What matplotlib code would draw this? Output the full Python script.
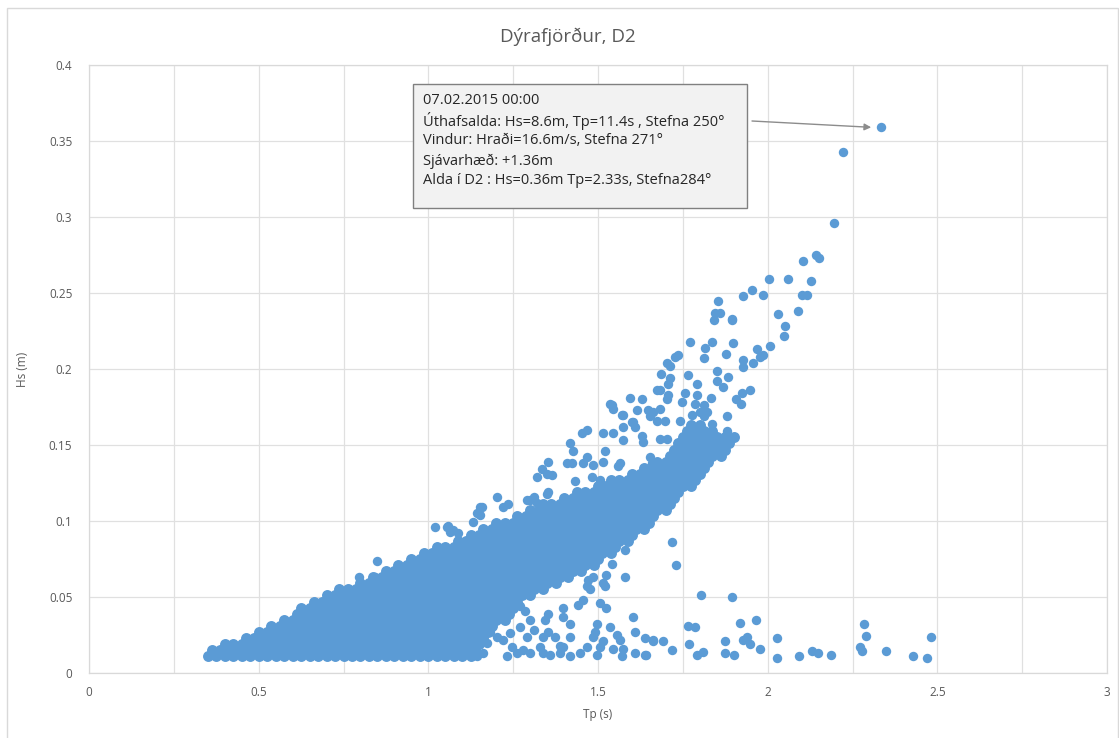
import matplotlib
matplotlib.use("Agg")
import matplotlib.pyplot as plt
from matplotlib.patches import Rectangle
import numpy as np

plt.rcParams['font.family'] = ['Open Sans', 'DejaVu Sans']

# ---------------- data ----------------
# dense core of the cloud: one Hs level per row, the Tp values of the dots in that row
core_hs = [0.011, 0.015, 0.019, 0.023, 0.027, 0.031, 0.035, 0.039, 0.043, 0.047,
           0.051, 0.055, 0.059, 0.063, 0.067, 0.071, 0.075, 0.079, 0.083, 0.087,
           0.091, 0.095, 0.099, 0.103, 0.107, 0.111, 0.115, 0.119, 0.123, 0.127,
           0.131, 0.135, 0.139, 0.143, 0.147, 0.151, 0.155, 0.159, 0.163]
core_tp = [
    [0.35,0.375,0.4,0.425,0.45,0.475,0.5,0.525,0.55,0.575,0.6,0.625,0.65,0.675,0.7,0.725,0.75,0.775,0.8,0.825,0.85,0.875,0.9,0.925,0.95,0.975,1.0,1.025,1.05,1.075,1.1,1.125],
    [0.362,0.387,0.412,0.437,0.462,0.487,0.512,0.537,0.562,0.587,0.612,0.637,0.662,0.687,0.712,0.737,0.762,0.787,0.812,0.837,0.862,0.887,0.912,0.937,0.962,0.987,1.012,1.037,1.062,1.087,1.112,1.137],
    [0.4,0.425,0.45,0.475,0.5,0.525,0.55,0.575,0.6,0.625,0.65,0.675,0.7,0.725,0.75,0.775,0.8,0.825,0.85,0.875,0.9,0.925,0.95,0.975,1.0,1.025,1.05,1.075,1.1,1.125,1.15],
    [0.462,0.487,0.512,0.537,0.562,0.587,0.612,0.637,0.662,0.687,0.712,0.737,0.762,0.787,0.812,0.837,0.862,0.887,0.912,0.937,0.962,0.987,1.012,1.037,1.062,1.087,1.112,1.137,1.162],
    [0.5,0.525,0.55,0.575,0.6,0.625,0.65,0.675,0.7,0.725,0.75,0.775,0.8,0.825,0.85,0.875,0.9,0.925,0.95,0.975,1.0,1.025,1.05,1.075,1.1,1.125,1.15,1.175],
    [0.537,0.562,0.587,0.612,0.637,0.662,0.687,0.712,0.737,0.762,0.787,0.812,0.837,0.862,0.887,0.912,0.937,0.962,0.987,1.012,1.037,1.062,1.087,1.112,1.137,1.162,1.187],
    [0.575,0.6,0.625,0.65,0.675,0.7,0.725,0.75,0.775,0.8,0.825,0.85,0.875,0.9,0.925,0.95,0.975,1.0,1.025,1.05,1.075,1.1,1.125,1.15,1.175,1.2,1.225],
    [0.612,0.637,0.662,0.687,0.712,0.737,0.762,0.787,0.812,0.837,0.862,0.887,0.912,0.937,0.962,0.987,1.012,1.037,1.062,1.087,1.112,1.137,1.162,1.187,1.212,1.237],
    [0.625,0.65,0.675,0.7,0.725,0.75,0.775,0.8,0.825,0.85,0.875,0.9,0.925,0.95,0.975,1.0,1.025,1.05,1.075,1.1,1.125,1.15,1.175,1.2,1.225,1.25],
    [0.662,0.687,0.712,0.737,0.762,0.787,0.812,0.837,0.862,0.887,0.912,0.937,0.962,0.987,1.012,1.037,1.062,1.087,1.112,1.137,1.162,1.187,1.212,1.237,1.262],
    [0.7,0.725,0.75,0.775,0.8,0.825,0.85,0.875,0.9,0.925,0.95,0.975,1.0,1.025,1.05,1.075,1.1,1.125,1.15,1.175,1.2,1.225,1.25,1.275,1.3],
    [0.737,0.762,0.787,0.812,0.837,0.862,0.887,0.912,0.937,0.962,0.987,1.012,1.037,1.062,1.087,1.112,1.137,1.162,1.187,1.212,1.237,1.262,1.287,1.312,1.337],
    [0.8,0.825,0.85,0.875,0.9,0.925,0.95,0.975,1.0,1.025,1.05,1.075,1.1,1.125,1.15,1.175,1.2,1.225,1.25,1.275,1.3,1.325,1.35,1.375],
    [0.837,0.862,0.887,0.912,0.937,0.962,0.987,1.012,1.037,1.062,1.087,1.112,1.137,1.162,1.187,1.212,1.237,1.262,1.287,1.312,1.337,1.362,1.387,1.412],
    [0.875,0.9,0.925,0.95,0.975,1.0,1.025,1.05,1.075,1.1,1.125,1.15,1.175,1.2,1.225,1.25,1.275,1.3,1.325,1.35,1.375,1.4,1.425,1.45],
    [0.912,0.937,0.962,0.987,1.012,1.037,1.062,1.087,1.112,1.137,1.162,1.187,1.212,1.237,1.262,1.287,1.312,1.337,1.362,1.387,1.412,1.437,1.462,1.487],
    [0.95,0.975,1.0,1.025,1.05,1.075,1.1,1.125,1.15,1.175,1.2,1.225,1.25,1.275,1.3,1.325,1.35,1.375,1.4,1.425,1.45,1.475,1.5],
    [0.987,1.012,1.037,1.062,1.087,1.112,1.137,1.162,1.187,1.212,1.237,1.262,1.287,1.312,1.337,1.362,1.387,1.412,1.437,1.462,1.487,1.512,1.537],
    [1.025,1.05,1.075,1.1,1.125,1.15,1.175,1.2,1.225,1.25,1.275,1.3,1.325,1.35,1.375,1.4,1.425,1.45,1.475,1.5,1.525,1.55],
    [1.087,1.112,1.137,1.162,1.187,1.212,1.237,1.262,1.287,1.312,1.337,1.362,1.387,1.412,1.437,1.462,1.487,1.512,1.537,1.562,1.587],
    [1.125,1.15,1.175,1.2,1.225,1.25,1.275,1.3,1.325,1.35,1.375,1.4,1.425,1.45,1.475,1.5,1.525,1.55,1.575,1.6],
    [1.162,1.187,1.212,1.237,1.262,1.287,1.312,1.337,1.362,1.387,1.412,1.437,1.462,1.487,1.512,1.537,1.562,1.587,1.612,1.637],
    [1.2,1.225,1.25,1.275,1.3,1.325,1.35,1.375,1.4,1.425,1.45,1.475,1.5,1.525,1.55,1.575,1.6,1.625,1.65],
    [1.262,1.287,1.312,1.337,1.362,1.387,1.412,1.437,1.462,1.487,1.512,1.537,1.562,1.587,1.612,1.637,1.662],
    [1.3,1.325,1.35,1.375,1.4,1.425,1.45,1.475,1.5,1.525,1.55,1.575,1.6,1.625,1.65,1.675,1.7],
    [1.337,1.362,1.387,1.412,1.437,1.462,1.487,1.512,1.537,1.562,1.587,1.612,1.637,1.662,1.687,1.712],
    [1.4,1.425,1.45,1.475,1.5,1.525,1.55,1.575,1.6,1.625,1.65,1.675,1.7,1.725],
    [1.437,1.462,1.487,1.512,1.537,1.562,1.587,1.612,1.637,1.662,1.687,1.712,1.737],
    [1.5,1.525,1.55,1.575,1.6,1.625,1.65,1.675,1.7,1.725,1.75,1.775],
    [1.537,1.562,1.587,1.612,1.637,1.662,1.687,1.712,1.737,1.762,1.787],
    [1.6,1.625,1.65,1.675,1.7,1.725,1.75,1.775,1.8],
    [1.637,1.662,1.687,1.712,1.737,1.762,1.787,1.812],
    [1.675,1.7,1.725,1.75,1.775,1.8,1.825],
    [1.712,1.737,1.762,1.787,1.812,1.837,1.862],
    [1.725,1.75,1.775,1.8,1.825,1.85,1.875],
    [1.737,1.762,1.787,1.812,1.837,1.862,1.887],
    [1.75,1.775,1.8,1.825,1.85,1.875,1.9],
    [1.762,1.787,1.812,1.837],
    [1.775,1.8],
]

# scattered dots outside the dense core (Tp in s, Hs in m)
tp_upper = [2.335,2.221,2.196,2.143,2.152,2.103,2.005,2.061,2.128,1.955,1.926,1.987,2.100,2.115,1.855,
            1.845,1.860,1.842,1.896,2.029,2.090,2.051,2.049,1.894,1.771,1.837,1.899,1.816,1.811,1.877,
            1.968,1.987,2.007,1.978,1.926,1.956,1.737,1.727,1.703,1.712,1.686,1.764,1.850,1.926,1.712,
            1.707,1.791,1.850,1.869,1.884,1.923,1.948,1.907,1.921,1.673,1.683,1.594,1.629,1.707,1.703,
            1.757,1.747,1.791,1.786,1.833,1.540,1.545,1.614,1.648,1.663,1.683,1.654,1.673,1.811,1.820,
            1.801,1.811,1.698,1.742,1.776,1.879,1.879,1.835,1.570,1.575,1.599,1.609,1.452,1.467,1.516,
            1.545,1.575,1.629,1.634,1.683,1.703,1.737,1.850,1.418,1.427,1.535,1.573,1.604,1.521,1.354,
            1.408,1.423,1.457,1.486,1.516,1.467,1.432,1.565,1.560,1.654,1.659,1.334,1.349,1.364,1.319,
            1.354,1.481,1.506,1.202,1.152,1.143,1.221,1.236,1.290,1.310,1.319,1.349,1.300,1.020,1.059,
            1.074,1.088,1.133,1.152,1.182,1.054,1.064,1.157,0.848,0.797,0.843]
hs_upper = [0.359,0.343,0.296,0.275,0.273,0.271,0.259,0.259,0.258,0.252,0.248,0.249,0.249,0.249,0.245,
            0.237,0.237,0.232,0.233,0.236,0.238,0.228,0.222,0.232,0.218,0.218,0.217,0.214,0.207,0.210,
            0.213,0.209,0.215,0.208,0.206,0.204,0.209,0.208,0.204,0.202,0.197,0.196,0.199,0.201,0.194,
            0.190,0.190,0.192,0.188,0.195,0.184,0.186,0.180,0.177,0.186,0.186,0.181,0.180,0.183,0.180,
            0.184,0.178,0.183,0.177,0.181,0.176,0.174,0.173,0.173,0.172,0.174,0.169,0.166,0.176,0.172,
            0.172,0.169,0.166,0.166,0.170,0.169,0.159,0.164,0.170,0.162,0.165,0.162,0.158,0.160,0.158,
            0.158,0.153,0.156,0.152,0.154,0.154,0.151,0.149,0.151,0.146,0.177,0.170,0.165,0.146,0.139,
            0.138,0.138,0.138,0.137,0.139,0.142,0.126,0.138,0.136,0.142,0.138,0.134,0.131,0.130,0.129,
            0.119,0.129,0.127,0.116,0.109,0.105,0.109,0.111,0.114,0.116,0.112,0.118,0.114,0.096,0.097,
            0.094,0.092,0.0995,0.104,0.093,0.096,0.093,0.109,0.074,0.063,0.063]

tp_lower = [1.580,1.580,1.540,1.525,1.516,1.521,1.486,1.472,1.467,1.476,1.506,1.525,1.442,1.457,1.398,
            1.398,1.354,1.344,1.604,1.418,1.418,1.354,1.373,1.388,1.496,1.491,1.486,1.535,1.555,1.565,
            1.609,1.639,1.663,1.516,1.506,1.545,1.575,1.570,1.609,1.639,1.447,1.467,1.496,1.398,1.388,
            1.418,1.339,1.329,1.339,1.359,1.300,1.280,1.260,1.246,1.231,1.290,1.310,1.270,1.300,1.285,
            1.270,1.241,1.221,1.202,1.182,1.172,1.162,1.143,1.123,1.717,1.729,1.804,1.896,1.766,1.786,
            1.917,1.966,1.663,1.693,1.642,1.719,1.768,1.793,1.809,1.874,1.874,1.902,1.926,1.938,1.948,
            1.976,2.027,2.027,2.091,2.130,2.149,2.187,2.272,2.277,2.285,2.290,2.349,2.429,2.469,2.482]
hs_lower = [0.081,0.063,0.072,0.0645,0.059,0.057,0.063,0.061,0.057,0.055,0.046,0.043,0.045,0.048,0.043,
            0.037,0.039,0.035,0.037,0.032,0.024,0.027,0.024,0.018,0.032,0.027,0.024,0.030,0.025,0.022,
            0.027,0.023,0.022,0.021,0.017,0.016,0.016,0.011,0.013,0.012,0.013,0.017,0.012,0.017,0.013,
            0.011,0.024,0.017,0.013,0.012,0.013,0.015,0.013,0.017,0.011,0.024,0.028,0.030,0.035,0.041,
            0.044,0.026,0.022,0.024,0.027,0.020,0.013,0.011,0.015,0.086,0.071,0.051,0.050,0.031,0.030,
            0.033,0.035,0.021,0.021,0.012,0.015,0.019,0.012,0.014,0.021,0.013,0.012,0.022,0.0235,0.019,
            0.016,0.023,0.010,0.0115,0.0147,0.013,0.0116,0.017,0.0147,0.032,0.0245,0.0145,0.011,0.0097,0.024]

x_ticks = [0, 0.5, 1, 1.5, 2, 2.5, 3]
x_tick_labels = ['0', '0.5', '1', '1.5', '2', '2.5', '3']
y_ticks = [0, 0.05, 0.1, 0.15, 0.2, 0.25, 0.3, 0.35, 0.4]
y_tick_labels = ['0', '0.05', '0.1', '0.15', '0.2', '0.25', '0.3', '0.35', '0.4']

title = 'Dýrafjörður, D2'
note_lines = ['07.02.2015 00:00',
              'Úthafsalda: Hs=8.6m, Tp=11.4s , Stefna 250°',
              'Vindur: Hraði=16.6m/s, Stefna 271°',
              'Sjávarhæð: +1.36m',
              'Alda í D2 : Hs=0.36m Tp=2.33s, Stefna284°']
note_point = (2.335, 0.359)

# ---------------- figure ----------------
W, H = 1119, 738
fig = plt.figure(figsize=(W / 100, H / 100), dpi=100)
fig.patch.set_facecolor('white')

# outer chart frame
fig.patches.append(Rectangle((7 / W, -0.01), (1118 - 7) / W, 1 - 8 / H + 0.01,
                             transform=fig.transFigure, fill=False,
                             edgecolor='#d9d9d9', linewidth=1.0))

ax = fig.add_axes([89 / W, 1 - 673 / H, (1107 - 89) / W, (673 - 65) / H])
ax.set_xlim(0, 3)
ax.set_ylim(0, 0.4)

grid_c = '#e0e0e0'
ax.set_xticks(x_ticks)
ax.set_xticklabels(x_tick_labels)
ax.set_xticks([0.25, 0.75, 1.25, 1.75, 2.25, 2.75], minor=True)
ax.set_yticks(y_ticks)
ax.set_yticklabels(y_tick_labels)
ax.grid(True, which='both', color=grid_c, linewidth=0.9)
ax.set_axisbelow(True)
ax.tick_params(axis='both', which='both', length=0, colors='#595959', labelsize=8.5)
ax.tick_params(axis='y', pad=12)
ax.tick_params(axis='x', pad=9)
for s in ax.spines.values():
    s.set_color('#d9d9d9')
    s.set_linewidth(0.9)

dot_c = '#5b9bd5'
core_x = np.concatenate([np.array(r, dtype=float) for r in core_tp])
core_y = np.concatenate([np.full(len(r), h) for r, h in zip(core_tp, core_hs)])
ax.scatter(core_x, core_y, s=62, color=dot_c, linewidths=0, zorder=3)
ax.scatter(tp_upper, hs_upper, s=46, color=dot_c, linewidths=0, zorder=3)
ax.scatter(tp_lower, hs_lower, s=46, color=dot_c, linewidths=0, zorder=3)

ax.set_xlabel('Tp (s)', color='#595959', fontsize=8.5)
ax.set_ylabel('Hs (m)', color='#595959', fontsize=8.5)
ax.yaxis.set_label_coords((29 - 89) / 1018, 0.5)
ax.xaxis.set_label_coords(0.5, (673 - 708) / 608)

fig.text(568 / W, 1 - 37 / H, title, ha='center', va='center',
         fontsize=13.5, color='#595959')

# annotation box
bx0, by0, bx1, by1 = 413, 84, 747, 208
fig.patches.append(Rectangle((bx0 / W, 1 - by1 / H), (bx1 - bx0) / W, (by1 - by0) / H,
                             transform=fig.transFigure, facecolor='#f2f2f2',
                             edgecolor='#808080', linewidth=1.0, zorder=5))
for i, line in enumerate(note_lines):
    fig.text(423 / W, 1 - (101 + 20 * i) / H, line, ha='left', va='center',
             fontsize=10.5, color='#262626', zorder=6)

ax.annotate('', xy=(note_point[0] - 0.03, note_point[1]),
            xytext=(752 / W, 1 - 121 / H), textcoords='figure fraction',
            arrowprops=dict(arrowstyle='-|>', color='#8c8c8c', lw=1.0,
                            mutation_scale=10, shrinkA=0, shrinkB=0),
            zorder=6)

fig.savefig('out.png', dpi=100, facecolor='white')
